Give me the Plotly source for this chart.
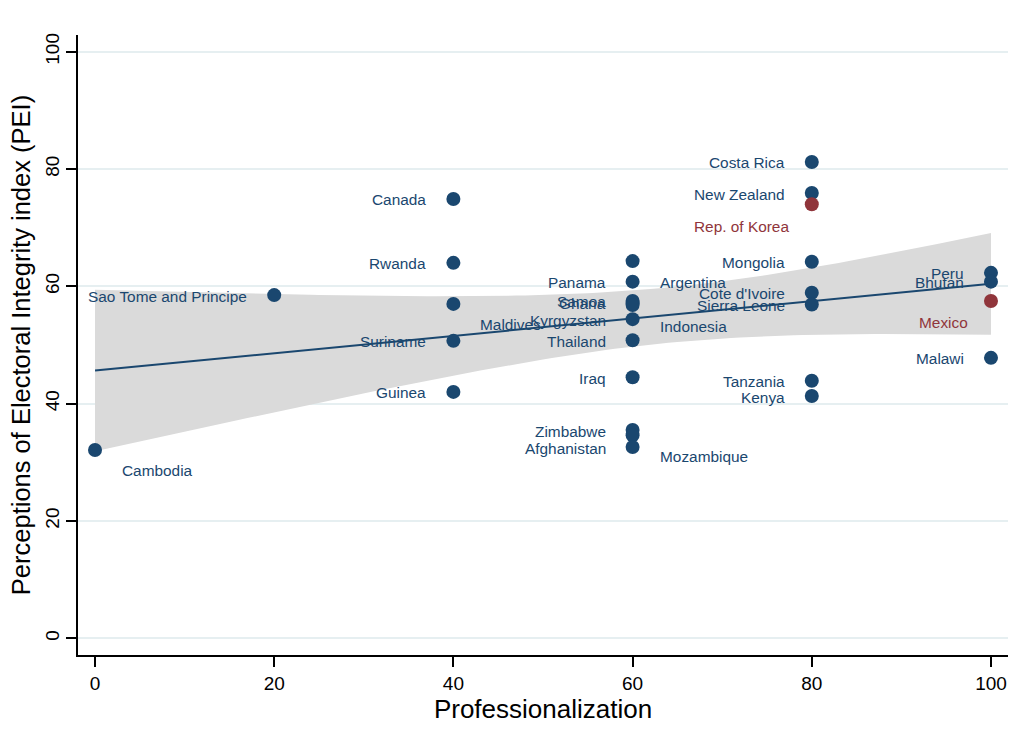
import numpy as np
import plotly.graph_objects as go

# Country-level observations
countries = [
    "Cambodia", "Sao Tome and Principe",
    "Canada", "Rwanda", "Maldives", "Suriname", "Guinea",
    "Argentina", "Panama", "Samoa", "Ghana", "Indonesia", "Kyrgyzstan",
    "Thailand", "Iraq", "Zimbabwe", "Mozambique", "Afghanistan",
    "Costa Rica", "New Zealand", "Rep. of Korea", "Mongolia",
    "Cote d'Ivoire", "Sierra Leone", "Tanzania", "Kenya",
    "Peru", "Bhutan", "Mexico", "Malawi",
]
professionalization = [
    0, 20,
    40, 40, 40, 40, 40,
    60, 60, 60, 60, 60, 60,
    60, 60, 60, 60, 60,
    80, 80, 80, 80,
    80, 80, 80, 80,
    100, 100, 100, 100,
]
pei = [
    32.1, 58.5,
    74.9, 64.0, 57.0, 50.7, 42.0,
    64.3, 60.8, 57.5, 57.2, 56.8, 54.4,
    50.8, 44.5, 35.5, 34.6, 32.6,
    81.2, 75.9, 74.0, 64.2,
    58.9, 56.9, 43.9, 41.3,
    62.3, 60.8, 57.5, 47.8,
]
highlighted = ["Rep. of Korea", "Mexico"]

x_ticks = [0, 20, 40, 60, 80, 100]
y_ticks = [0, 20, 40, 60, 80, 100]

# Label placement (clock positions): 9 = left, 4 = lower right, 8 = lower left
label_clock = {"Cambodia": 4, "Maldives": 4, "Argentina": 4, "Indonesia": 4,
               "Mozambique": 4, "Rep. of Korea": 8, "Mexico": 8}

NAVY = "#1a476f"
MAROON = "#90353b"
BAND = "#dadada"
GRID = "#e6eff1"
FONT = "Liberation Sans, Arial, Helvetica, sans-serif"

x = np.array(professionalization, dtype=float)
y = np.array(pei, dtype=float)

# Linear fit with 95% confidence interval of the mean prediction
n = len(x)
xbar, ybar = x.mean(), y.mean()
sxx = ((x - xbar) ** 2).sum()
b1 = ((x - xbar) * (y - ybar)).sum() / sxx
b0 = ybar - b1 * xbar
resid = y - (b0 + b1 * x)
s = np.sqrt((resid ** 2).sum() / (n - 2))
t_crit = 2.048  # t(0.975, df=28)
xf = np.linspace(x.min(), x.max(), 101)
yf = b0 + b1 * xf
se = s * np.sqrt(1.0 / n + (xf - xbar) ** 2 / sxx)
lo, hi = yf - t_crit * se, yf + t_crit * se

fig = go.Figure()
fig.add_trace(go.Scatter(
    x=np.concatenate([xf, xf[::-1]]), y=np.concatenate([hi, lo[::-1]]),
    fill="toself", fillcolor=BAND, line=dict(width=0), mode="lines",
    hoverinfo="skip", showlegend=False))
fig.add_trace(go.Scatter(x=xf, y=yf, mode="lines",
                         line=dict(color=NAVY, width=2), showlegend=False))

colors = [MAROON if c in highlighted else NAVY for c in countries]
fig.add_trace(go.Scatter(x=professionalization, y=pei, mode="markers",
                         marker=dict(color=colors, size=14, line=dict(width=0)),
                         text=countries, showlegend=False))

for c, xv, yv, col in zip(countries, professionalization, pei, colors):
    pos = label_clock.get(c, 9)
    if pos == 9:
        anchor, dx, dy = "right", -25, -1
    elif pos == 4:
        anchor, dx, dy = "left", 25, -21
    else:
        anchor, dx, dy = "right", -21, -22
    fig.add_annotation(x=xv, y=yv, text=c, showarrow=False, xanchor=anchor,
                       yanchor="middle", xshift=dx, yshift=dy,
                       font=dict(family=FONT, size=15.4, color=col))

fig.update_layout(
    width=1026, height=746,
    margin=dict(l=78, r=18, t=35, b=91),
    paper_bgcolor="white", plot_bgcolor="white",
    font=dict(family=FONT, color="black"),
    showlegend=False,
)
fig.update_xaxes(
    range=[-1.9, 101.9], tickvals=x_ticks, showgrid=False, zeroline=False,
    showline=True, linecolor="black", linewidth=1.5,
    ticks="outside", ticklen=10, tickwidth=1.5, tickcolor="black",
    tickfont=dict(size=19), title=dict(text="Professionalization",
                                       font=dict(size=26), standoff=2),
)
fig.update_yaxes(
    range=[-2.86, 102.85], tickvals=y_ticks, showgrid=True, gridcolor=GRID,
    gridwidth=1.5, zeroline=False,
    showline=True, linecolor="black", linewidth=1.5,
    ticks="outside", ticklen=10, tickwidth=1.5, tickcolor="black",
    tickangle=-90, tickfont=dict(size=19),
    title=dict(text="Perceptions of Electoral Integrity index (PEI)",
               font=dict(size=25.5), standoff=4),
)

fig.write_html("out.html")
